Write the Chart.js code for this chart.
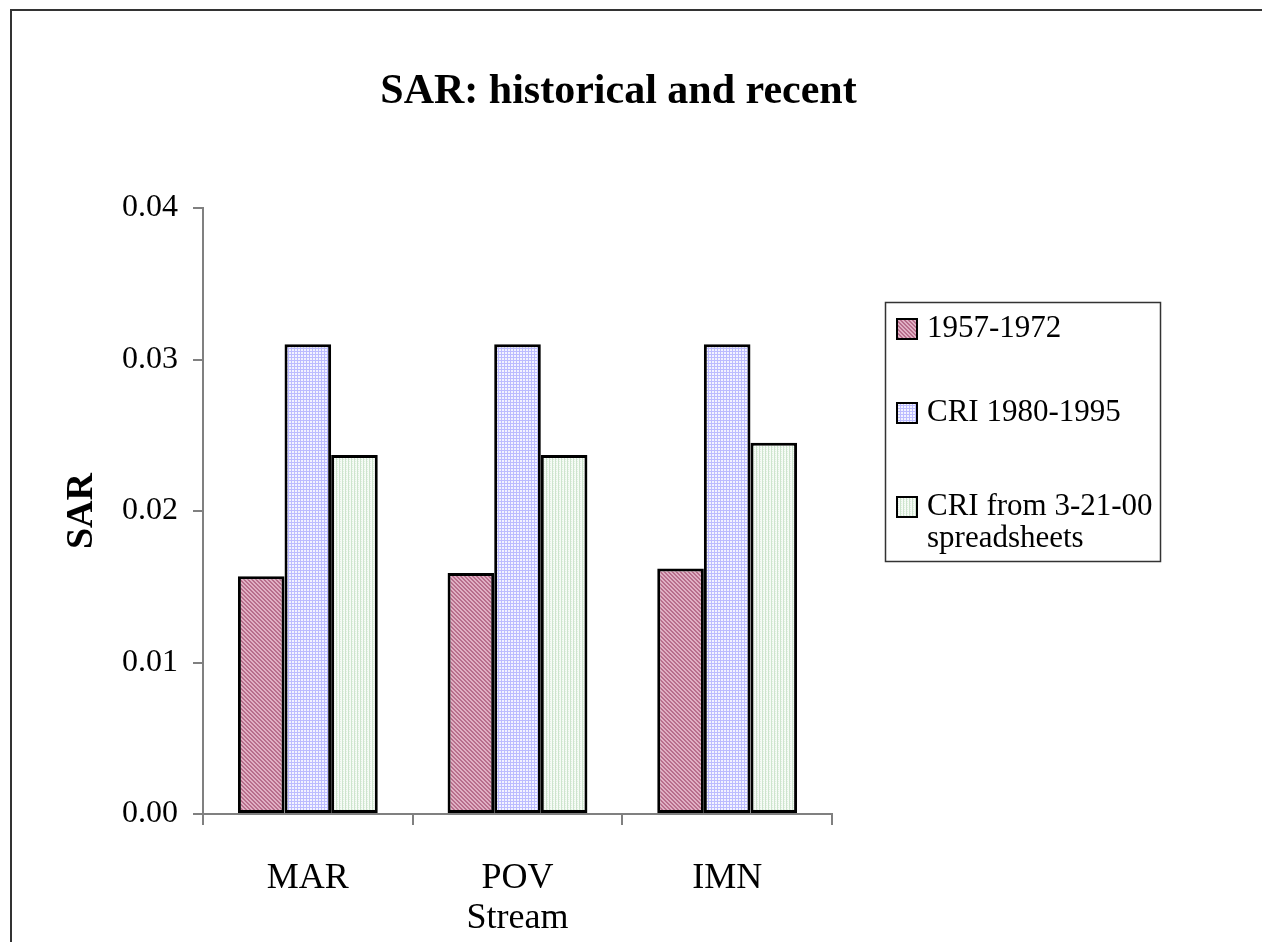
<!DOCTYPE html>
<html>
<head>
<meta charset="utf-8">
<script src="https://cdn.jsdelivr.net/npm/chart.js@4"></script>
<style>
    html, body { margin: 0; padding: 0; background: #fff; overflow: hidden; }
    #wrap { position: relative; width: 1262px; height: 942px; }
    #frame { position: absolute; left: 10px; top: 9px; width: 1400px; height: 1100px; border: 2px solid #333; box-sizing: border-box; }
    #sarChart { position: absolute; left: 0; top: 0; }
</style>
</head>
<body>
<div id="wrap">
    <div id="frame"></div>
    <canvas id="sarChart" width="1262" height="942"></canvas>
</div>
<script>
const chartTitle = 'SAR: historical and recent';
const xTitle = 'Stream';
const yTitle = 'SAR';
const categories = ['MAR', 'POV', 'IMN'];
const seriesNames = ['1957-1972', 'CRI 1980-1995', 'CRI from 3-21-00 spreadsheets'];
const sar1957to1972 = [0.0157, 0.0159, 0.0162];
const sarCri1980to1995 = [0.0310, 0.0310, 0.0310];
const sarCriSpreadsheets = [0.0237, 0.0237, 0.0245];
const yMin = 0;
const yMax = 0.04;
const yStep = 0.01;

const serif = '"Liberation Serif", "Times New Roman", serif';
const canvas = document.getElementById('sarChart');
const ctx = canvas.getContext('2d');

// small tiles to imitate the old office hatch fills
function makePattern(w, h, paint) {
    const tile = document.createElement('canvas');
    tile.width = w;
    tile.height = h;
    paint(tile.getContext('2d'));
    return ctx.createPattern(tile, 'repeat');
}

const pinkFill = makePattern(4, 4, g => {
    g.fillStyle = '#e0b0c4';
    g.fillRect(0, 0, 4, 4);
    g.fillStyle = '#b86e8c';
    for (let i = 0; i < 4; i++) {
        g.fillRect(i, i, 1, 1);
        g.fillRect((i + 1) % 4, i, 1, 1);
    }
});

const blueFill = makePattern(3, 3, g => {
    g.fillStyle = '#f3f3ff';
    g.fillRect(0, 0, 3, 3);
    g.fillStyle = '#bcbcff';
    g.fillRect(0, 0, 3, 1);
    g.fillRect(0, 0, 1, 3);
});

const greenFill = makePattern(3, 2, g => {
    g.fillStyle = '#f6fbf6';
    g.fillRect(0, 0, 3, 2);
    g.fillStyle = '#cde4cd';
    g.fillRect(0, 0, 1, 2);
    g.fillStyle = '#e2f0e2';
    g.fillRect(1, 1, 1, 1);
});

function wrapText(c, text, maxWidth) {
    const words = text.split(' ');
    const lines = [];
    let line = '';
    words.forEach(w => {
        const test = line ? line + ' ' + w : w;
        if (line && c.measureText(test).width > maxWidth) {
            lines.push(line);
            line = w;
        } else {
            line = test;
        }
    });
    if (line) lines.push(line);
    return lines;
}

const boxLegend = {
    id: 'boxLegend',
    afterDraw(chart) {
        const c = chart.ctx;
        c.save();
        c.strokeStyle = '#333';
        c.lineWidth = 1.5;
        c.strokeRect(885.5, 302.5, 275, 259);
        c.font = '31px ' + serif;
        c.textBaseline = 'middle';
        c.textAlign = 'left';
        const rowY = [329, 413, 507];
        chart.data.datasets.forEach((ds, i) => {
            c.fillStyle = ds.backgroundColor;
            c.fillRect(897, rowY[i] - 10, 20, 20);
            c.lineWidth = 2;
            c.strokeStyle = '#000';
            c.strokeRect(897, rowY[i] - 10, 20, 20);
            c.fillStyle = '#000';
            wrapText(c, ds.label, 228).forEach((t, j) => {
                c.fillText(t, 927, rowY[i] + j * 32);
            });
        });
        c.restore();
    }
};

const barStyle = {
    borderColor: '#000',
    borderWidth: 3,
    borderSkipped: false,
    categoryPercentage: 0.667,
    barPercentage: 1.0
};

new Chart(ctx, {
    type: 'bar',
    data: {
        labels: categories,
        datasets: [
            { label: seriesNames[0], data: sar1957to1972, backgroundColor: pinkFill, ...barStyle },
            { label: seriesNames[1], data: sarCri1980to1995, backgroundColor: blueFill, ...barStyle },
            { label: seriesNames[2], data: sarCriSpreadsheets, backgroundColor: greenFill, ...barStyle }
        ]
    },
    options: {
        responsive: false,
        animation: false,
        devicePixelRatio: 1,
        layout: { padding: { left: 0, right: 25, top: 0, bottom: 0 } },
        plugins: {
            legend: { display: false },
            tooltip: { enabled: false },
            title: {
                display: true,
                text: chartTitle,
                color: '#000',
                font: { family: serif, size: 42, weight: 'bold' },
                padding: { top: 67, bottom: 90.6 }
            }
        },
        scales: {
            x: {
                grid: {
                    display: true,
                    drawOnChartArea: false,
                    drawTicks: true,
                    tickLength: 11,
                    color: '#808080',
                    lineWidth: 2,
                    offset: true
                },
                border: { display: true, color: '#808080', width: 2 },
                ticks: { color: '#000', font: { family: serif, size: 36 }, padding: 32 },
                title: {
                    display: true,
                    text: xTitle,
                    color: '#000',
                    font: { family: serif, size: 36 },
                    padding: { top: 0, bottom: 2 }
                },
                afterFit: s => { s.height = 128; }
            },
            y: {
                min: yMin,
                max: yMax,
                grid: {
                    display: true,
                    drawOnChartArea: false,
                    drawTicks: true,
                    tickLength: 10,
                    color: '#808080',
                    lineWidth: 2
                },
                border: { display: true, color: '#808080', width: 2 },
                ticks: {
                    stepSize: yStep,
                    color: '#000',
                    font: { family: serif, size: 32 },
                    padding: 15,
                    callback: v => Number(v).toFixed(2)
                },
                title: {
                    display: true,
                    text: yTitle,
                    color: '#000',
                    font: { family: serif, size: 38, weight: 'bold' },
                    padding: { top: 59, bottom: 0 }
                },
                afterFit: s => { s.width = 203; }
            },
            // empty right-hand axis, only reserves room for the legend box
            legendRoom: {
                type: 'linear',
                position: 'right',
                display: true,
                grid: { display: false },
                border: { display: false },
                ticks: { display: false },
                afterFit: s => { s.width = 405; }
            }
        }
    },
    plugins: [boxLegend]
});
</script>
</body>
</html>
